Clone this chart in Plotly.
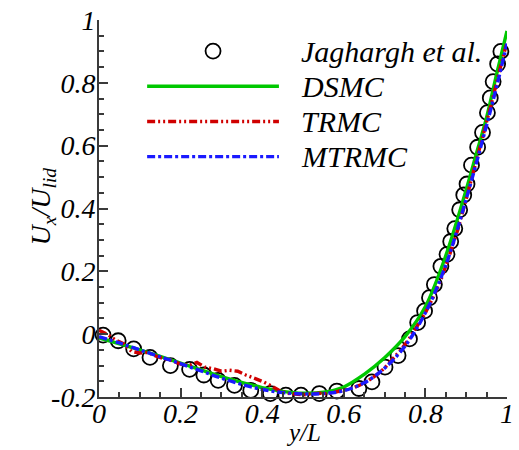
import plotly.graph_objects as go

# Jaghargh et al. reference points
jag_x = [0.010, 0.047, 0.085, 0.125, 0.175, 0.222, 0.257, 0.292, 0.332, 0.372,
         0.420, 0.458, 0.495, 0.540, 0.583, 0.637, 0.669, 0.701, 0.733, 0.761,
         0.781, 0.798, 0.810, 0.822, 0.838, 0.853, 0.862, 0.872, 0.884, 0.894,
         0.902, 0.913, 0.928, 0.940, 0.952, 0.959, 0.966, 0.977, 0.985]
jag_y = [-0.003, -0.021, -0.047, -0.074, -0.100, -0.112, -0.130, -0.147, -0.163, -0.179,
         -0.189, -0.194, -0.194, -0.189, -0.181, -0.173, -0.152, -0.105, -0.068, -0.015,
         0.037, 0.074, 0.116, 0.158, 0.216, 0.254, 0.295, 0.336, 0.396, 0.443,
         0.478, 0.538, 0.595, 0.642, 0.705, 0.752, 0.804, 0.860, 0.900]

# DSMC profile
dsmc_x = [0.0, 0.1, 0.2, 0.3, 0.4, 0.45, 0.5, 0.55, 0.6, 0.65, 0.7, 0.75,
          0.8, 0.85, 0.9, 0.925, 0.95, 0.975, 1.0]
dsmc_y = [-0.012, -0.050, -0.092, -0.135, -0.170, -0.182, -0.188, -0.185, -0.168, -0.128,
          -0.075, -0.008, 0.088, 0.250, 0.460, 0.575, 0.690, 0.830, 0.965]

# TRMC profile
trmc_x = [0.0, 0.02, 0.04, 0.06, 0.08, 0.10, 0.12, 0.14, 0.16, 0.18, 0.20, 0.22,
          0.24, 0.26, 0.28, 0.30, 0.32, 0.34, 0.36, 0.38, 0.40, 0.42, 0.44, 0.46,
          0.48, 0.50, 0.52, 0.54, 0.56, 0.58, 0.60, 0.62, 0.64, 0.66, 0.68, 0.70,
          0.72, 0.74, 0.76, 0.78, 0.80, 0.82, 0.84, 0.86, 0.88, 0.90, 0.92, 0.94,
          0.96, 0.98, 1.0]
trmc_y = [0.012, 0.000, -0.018, -0.030, -0.055, -0.060, -0.058, -0.070, -0.078, -0.085,
          -0.095, -0.100, -0.090, -0.105, -0.110, -0.118, -0.115, -0.118, -0.130, -0.140,
          -0.150, -0.163, -0.178, -0.188, -0.190, -0.193, -0.190, -0.188, -0.190, -0.185,
          -0.178, -0.172, -0.162, -0.148, -0.130, -0.108, -0.080, -0.050, -0.015, 0.025,
          0.068, 0.120, 0.180, 0.255, 0.335, 0.430, 0.525, 0.620, 0.725, 0.830, 0.930]

# MTRMC profile
mtrmc_x = [0.0, 0.05, 0.1, 0.15, 0.2, 0.25, 0.3, 0.35, 0.4, 0.45, 0.5, 0.55,
           0.6, 0.65, 0.7, 0.75, 0.8, 0.85, 0.9, 0.95, 0.975, 1.0]
mtrmc_y = [-0.008, -0.028, -0.050, -0.072, -0.094, -0.117, -0.140, -0.160, -0.176, -0.186,
           -0.190, -0.189, -0.180, -0.155, -0.108, -0.038, 0.068, 0.220, 0.430, 0.665,
           0.790, 0.925]

x_ticks = [0, 0.2, 0.4, 0.6, 0.8, 1]
x_tick_text = ["0", "0.2", "0.4", "0.6", "0.8", "1"]
y_ticks = [-0.2, 0, 0.2, 0.4, 0.6, 0.8, 1]
y_tick_text = ["-0.2", "0", "0.2", "0.4", "0.6", "0.8", "1"]

legend_names = ["Jaghargh et al.", "DSMC", "TRMC", "MTRMC"]

W, H = 519, 450
ML, MR, MT, MB = 99, 5, 17, 53
SERIF = "Liberation Serif, Times New Roman, Times, serif"
GREEN = "#00c800"
RED = "#d00000"
BLUE = "#1a1aff"
AXIS = "#3a3a3a"


def px_to_paper(px, py):
    """Pixel position in the page -> paper coordinates of the plot area."""
    pw, ph = W - ML - MR, H - MT - MB
    return (px - ML) / pw, (H - MB - py) / ph


circle_marker = dict(symbol="circle-open", size=15, color="black", line=dict(width=1.8, color="black"))
dsmc_line = dict(color=GREEN, width=3.4)
trmc_line = dict(color=RED, width=3.4, dash="8px,3px,2px,3px,2px,3px")
mtrmc_line = dict(color=BLUE, width=3.4, dash="8px,3px,3px,3px")

fig = go.Figure()

fig.add_trace(go.Scatter(x=jag_x, y=jag_y, mode="markers", marker=circle_marker,
                         cliponaxis=False, showlegend=False))
fig.add_trace(go.Scatter(x=dsmc_x, y=dsmc_y, mode="lines", line=dict(shape="spline", **dsmc_line),
                         cliponaxis=False, showlegend=False))
fig.add_trace(go.Scatter(x=trmc_x, y=trmc_y, mode="lines", line=trmc_line,
                         cliponaxis=False, showlegend=False))
fig.add_trace(go.Scatter(x=mtrmc_x, y=mtrmc_y, mode="lines", line=dict(shape="spline", **mtrmc_line),
                         cliponaxis=False, showlegend=False))

# Legend block drawn inside the axes
leg_x0, leg_x1, leg_txt = 0.118, 0.441, 0.49
leg_rows = [0.901, 0.789, 0.677, 0.565]
fig.add_trace(go.Scatter(x=[(leg_x0 + leg_x1) / 2], y=[leg_rows[0]], mode="markers",
                         marker=circle_marker, showlegend=False))
for row, ln in zip(leg_rows[1:], [dsmc_line, trmc_line, mtrmc_line]):
    fig.add_trace(go.Scatter(x=[leg_x0, leg_x1], y=[row, row], mode="lines", line=ln,
                             showlegend=False))
for row, name in zip(leg_rows, legend_names):
    fig.add_annotation(x=leg_txt, y=row, xref="x", yref="y", text=name, showarrow=False,
                       xanchor="left", yanchor="middle",
                       font=dict(family=SERIF, size=30, style="italic", color="black"))

# Axis titles
tx, ty = px_to_paper(307, 433)
fig.add_annotation(x=tx, y=ty, xref="paper", yref="paper", text="y/L", showarrow=False,
                   xanchor="center", yanchor="middle",
                   font=dict(family=SERIF, size=25, style="italic", color="black"))
tx, ty = px_to_paper(42, 205)
fig.add_annotation(x=tx, y=ty, xref="paper", yref="paper", text="U<sub>x</sub>/U<sub>lid</sub>",
                   showarrow=False, textangle=-90, xanchor="center", yanchor="middle",
                   font=dict(family=SERIF, size=28, style="italic", color="black"))

axis_common = dict(showline=True, linecolor=AXIS, linewidth=2, ticks="inside", ticklen=9,
                   tickwidth=2, tickcolor=AXIS, showgrid=False, zeroline=False,
                   ticklabeloverflow="allow",
                   tickfont=dict(family=SERIF, size=28, style="italic", color="black"),
                   minor=dict(ticks="inside", ticklen=5, tickwidth=1.5, tickcolor=AXIS, dtick=0.05))

fig.update_xaxes(range=[0, 1], tickvals=x_ticks, ticktext=x_tick_text, ticklabelstandoff=-10,
                 **axis_common)
fig.update_yaxes(range=[-0.2, 1], tickvals=y_ticks, ticktext=y_tick_text, ticklabelstandoff=-4,
                 **axis_common)

fig.update_layout(width=W, height=H, margin=dict(l=ML, r=MR, t=MT, b=MB),
                  plot_bgcolor="white", paper_bgcolor="white")

fig.write_html("out.html")
